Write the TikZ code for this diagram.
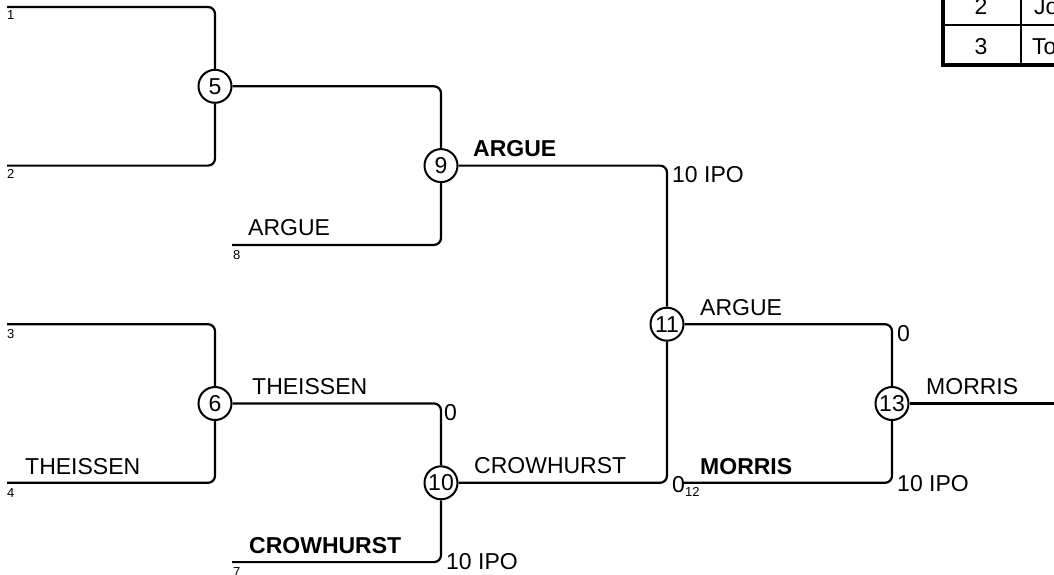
\documentclass[tikz,border=0pt]{standalone}
\usepackage{fontspec}
\setmainfont{Liberation Sans}
\begin{document}
\begin{tikzpicture}[x=1pt,y=-1pt,
  big/.style={font=\fontsize{23}{27}\selectfont, inner sep=0pt, anchor=base west},
  bigb/.style={big, font=\fontsize{23}{27}\selectfont\bfseries},
  small/.style={font=\fontsize{13}{15}\selectfont, inner sep=0pt, anchor=base west},
  game/.style={circle, draw, line width=2pt, minimum size=33pt, inner sep=0pt, fill=white,
    font=\fontsize{23}{27}\selectfont},
  wire/.style={line width=2.2pt, rounded corners=7pt},
  tline/.style={line width=2pt},
  tthick/.style={line width=4pt}]
\useasboundingbox (0,0) rectangle (1054,575);
\clip (0,0) rectangle (1054,575);
% start coordinates
\coordinate (s1) at (7,7);
\coordinate (s2) at (7,165.6);
\coordinate (s3) at (7,324.2);
\coordinate (s4) at (7,482.8);
\coordinate (s8) at (232,244.9);
\coordinate (s7) at (232,562.1);
\coordinate (s12) at (683,482.8);
\coordinate (fin) at (1060,403.5);
% games
\node[game] (c5) at (215,86.3) {5};
\node[game] (c6) at (215,403.5) {6};
\node[game] (c9) at (441,165.6) {9};
\node[game] (c10) at (441,482.8) {10};
\node[game] (c11) at (667,324.2) {11};
\node[game] (c13) at (892,403.5) {13};
% connectors
\draw[wire] (s1) -| (c5.north);
\draw[wire] (s2) -| (c5.south);
\draw[wire] (c5.east) -| (c9.north);
\draw[wire] (s8) -| (c9.south);
\draw[wire] (s3) -| (c6.north);
\draw[wire] (s4) -| (c6.south);
\draw[wire] (c6.east) -| (c10.north);
\draw[wire] (s7) -| (c10.south);
\draw[wire] (c9.east) -| (c11.north);
\draw[wire] (c10.east) -| (c11.south);
\draw[wire] (c11.east) -| (c13.north);
\draw[wire] (s12) -| (c13.south);
\draw[wire] (c13.east) -- (fin);
% player labels
\node[big] (l8) at (248,235) {ARGUE};
\node[big] (l4) at (25,474) {THEISSEN};
\node[bigb] (l7) at (249,553) {CROWHURST};
\node[bigb] (w9) at (473,156) {ARGUE};
\node[big] (w6) at (252,394) {THEISSEN};
\node[big] (w10) at (474,473) {CROWHURST};
\node[big] (w11) at (700,315) {ARGUE};
\node[bigb] (l12) at (700,474) {MORRIS};
\node[big] (w13) at (926,394) {MORRIS};
% scores
\node[big] (p9) at (672,182) {10 IPO};
\node[big] (p6) at (444,420) {0};
\node[big] (p7) at (446,569) {10 IPO};
\node[big] (p10) at (672,492) {0};
\node[big] (p11) at (897,341) {0};
\node[big] (p12) at (897,491) {10 IPO};
% slot numbers
\node[small] (n1) at (7,20) {1};
\node[small] (n2) at (7,178.5) {2};
\node[small] (n3) at (7,338) {3};
\node[small] (n4) at (7,497) {4};
\node[small] (n8) at (233,259) {8};
\node[small] (n7) at (233,576) {7};
\node[small] (n12) at (685,496) {12};
% table
\draw[tline] (943,25) -- (1060,25);
\draw[tline] (1021,-10) -- (1021,65);
\draw[tthick] (943,-10) -- (943,65) -- (1060,65);
\node[big, anchor=base] (t2) at (981,15) {2};
\node[big, anchor=base] (t3) at (981,55) {3};
\node[big] (t2n) at (1034,15) {Jo};
\node[big] (t3n) at (1032,55) {To};
\end{tikzpicture}
\end{document}
